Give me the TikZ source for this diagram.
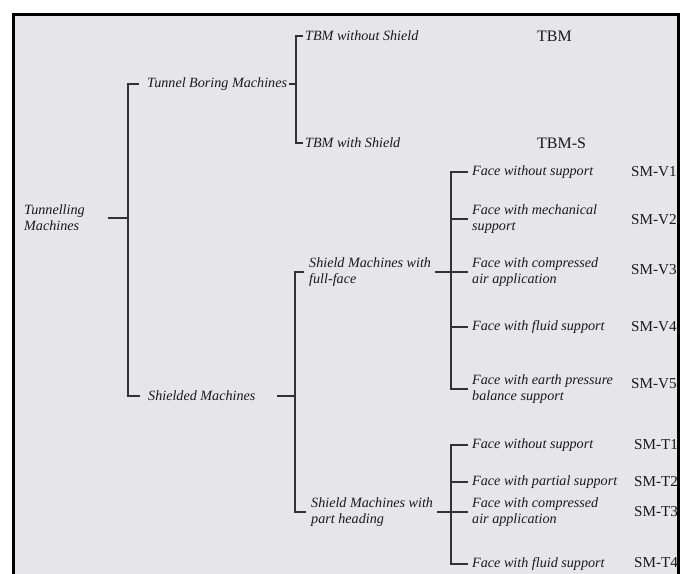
\documentclass[tikz,border=0pt]{standalone}
\usepackage{fontspec}
\setmainfont{Liberation Serif}
\definecolor{bg}{RGB}{230,230,232}
\definecolor{ln}{RGB}{50,50,50}
\definecolor{txt}{RGB}{25,25,25}
\begin{document}
\begin{tikzpicture}[x=1bp,y=-1bp,
  lbl/.style={anchor=west,inner sep=0pt,font=\fontsize{14.2}{16}\selectfont\itshape,align=left,text=txt},
  code/.style={anchor=west,inner sep=0pt,font=\fontsize{15.2}{18}\selectfont,text=txt},
  bigcode/.style={code,font=\fontsize{16}{18}\selectfont},
  conn/.style={draw=ln,line width=1.3bp}]
\useasboundingbox (0,0) rectangle (682,574);
\fill[bg] (13.5,15) rectangle (678.5,574);
% vertical line positions
\coordinate (a0) at (128,0);
\coordinate (a1) at (296,0);
\coordinate (a2) at (295,0);
\coordinate (a3) at (451,0);
% nodes
\node[lbl] (tm) at (24,218) {Tunnelling\\Machines};
\node[lbl] (tbmach) at (147,84) {Tunnel Boring Machines};
\node[lbl] (shm) at (148,396) {Shielded Machines};
\node[lbl] (tbmns) at (305,36) {TBM without Shield};
\node[lbl] (tbmws) at (305,143) {TBM with Shield};
\node[bigcode] (ctbm) at (537,36) {TBM};
\node[bigcode] (ctbms) at (537,143) {TBM-S};
\node[lbl] (smff) at (309,272) {Shield Machines with\\full-face};
\node[lbl] (smph) at (311,512) {Shield Machines with\\part heading};
\node[lbl] (v1) at (472,172) {Face without support};
\node[lbl] (v2) at (472,219) {Face with mechanical\\support};
\node[lbl] (v3) at (472,272) {Face with compressed\\air application};
\node[lbl] (v4) at (472,327) {Face with fluid support};
\node[lbl] (v5) at (472,389) {Face with earth pressure\\balance support};
\node[lbl] (t1) at (472,445) {Face without support};
\node[lbl] (t2) at (472,482) {Face with partial support};
\node[lbl] (t3) at (472,512) {Face with compressed\\air application};
\node[lbl] (t4) at (472,564) {Face with fluid support};
\node[code] (sv1) at (631,172) {SM-V1};
\node[code] (sv2) at (631,220) {SM-V2};
\node[code] (sv3) at (631,270) {SM-V3};
\node[code] (sv4) at (631,327) {SM-V4};
\node[code] (sv5) at (631,384) {SM-V5};
\node[code] (st1) at (634,445) {SM-T1};
\node[code] (st2) at (634,482) {SM-T2};
\node[code] (st3) at (634,512) {SM-T3};
\node[code] (st4) at (634,563) {SM-T4};
% connectors
\draw[conn] ([xshift=-20]tm.east -| a0) -- (tm.east -| a0);
\draw[conn] ([xshift=-8]tbmach.west) -- (a0 |- tbmach.west) -- (a0 |- shm.west) -- ([xshift=-8]shm.west);
\draw[conn] ([xshift=-7]tbmach.east -| a1) -- (tbmach.east -| a1);
\draw[conn] ([xshift=-2]tbmns.west) -- (a1 |- tbmns.west) -- (a1 |- tbmws.west) -- ([xshift=-2]tbmws.west);
\draw[conn] ([xshift=-18]shm.east -| a2) -- (shm.east -| a2);
\draw[conn] ([xshift=-5]smff.west) -- (a2 |- smff.west) -- (a2 |- smph.west) -- ([xshift=-5]smph.west);
\draw[conn] ([xshift=-16]smff.east -| a3) -- (smff.east -| a3);
\draw[conn] ([xshift=-14]smph.east -| a3) -- (smph.east -| a3);
\draw[conn] ([xshift=-4]v1.west) -- (a3 |- v1.west) -- (a3 |- v5.west) -- ([xshift=-4]v5.west);
\foreach \n in {v2,v3,v4} \draw[conn] (a3 |- \n.west) -- ([xshift=-4]\n.west);
\draw[conn] ([xshift=-4]t1.west) -- (a3 |- t1.west) -- (a3 |- t4.west) -- ([xshift=-4]t4.west);
\foreach \n in {t2,t3} \draw[conn] (a3 |- \n.west) -- ([xshift=-4]\n.west);
% frame
\fill[white] (680,0) rectangle (682,574);
\draw[line width=3bp,black,line join=miter] (13.5,574) -- (13.5,15) -- (678.5,15) -- (678.5,574);
\end{tikzpicture}
\end{document}
